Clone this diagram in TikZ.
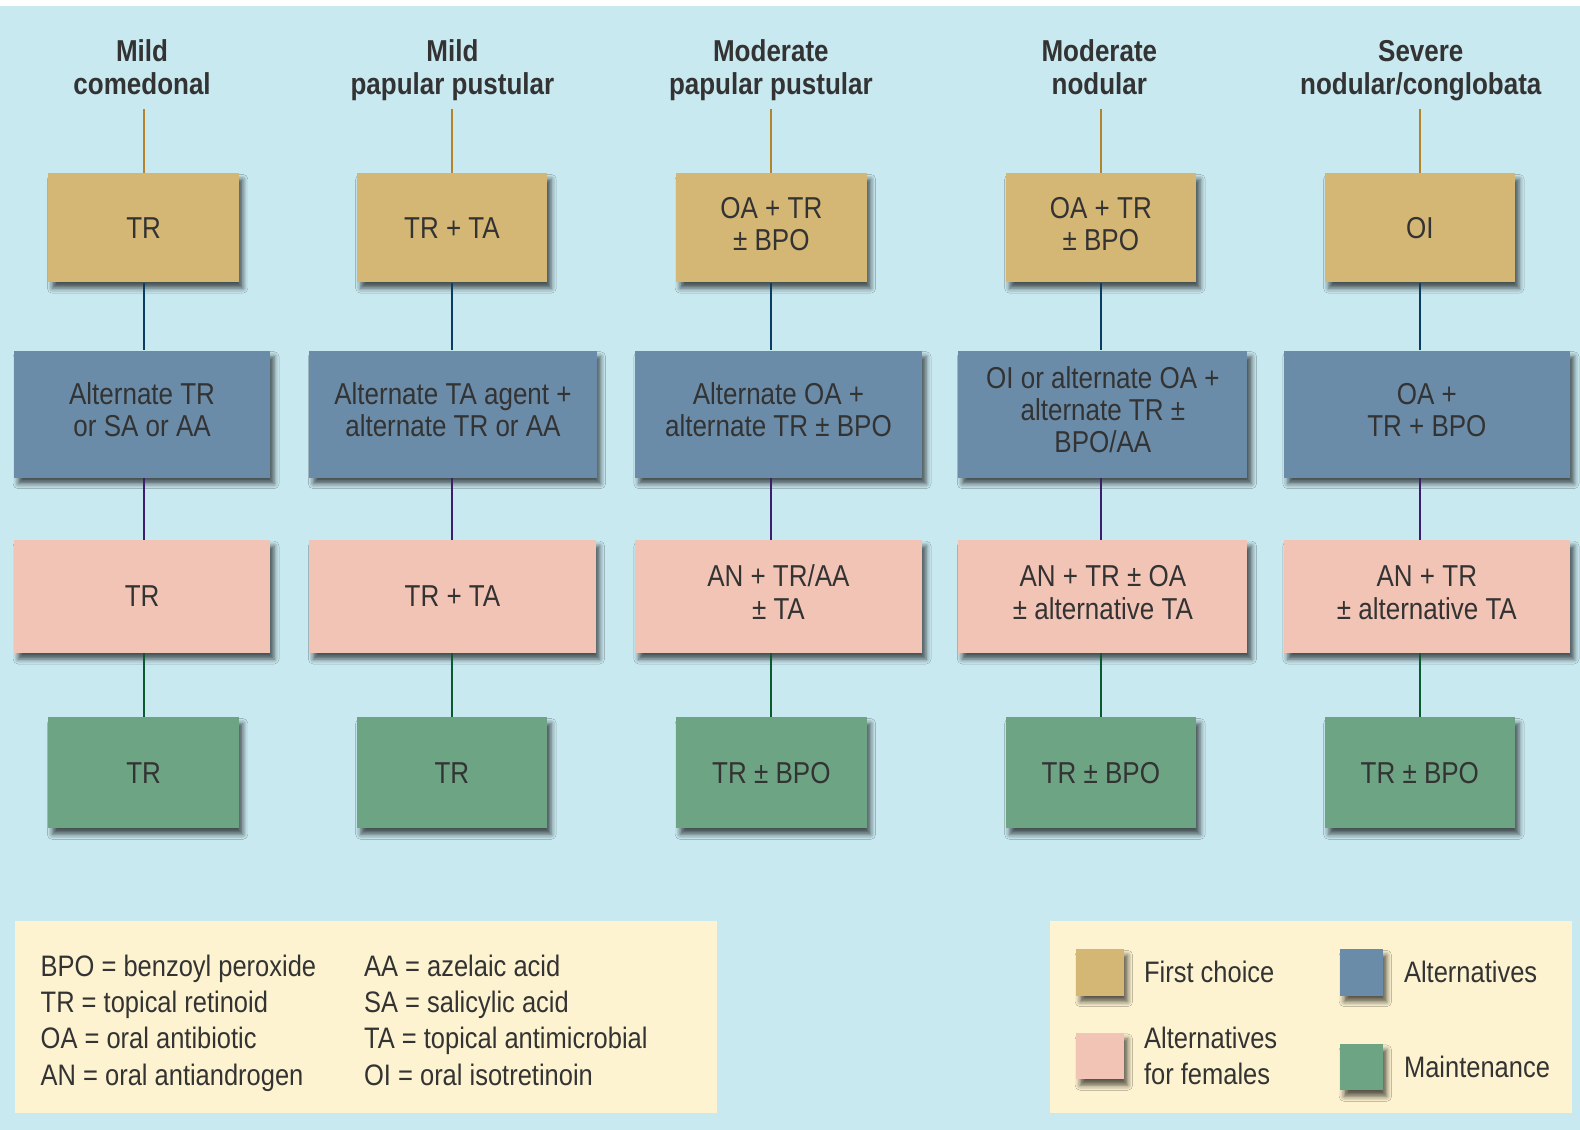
\documentclass[tikz,border=0pt]{standalone}
\usepackage{fontspec}
\setmainfont{Liberation Sans}[FakeStretch=0.86]
\usetikzlibrary{shadows.blur}
\definecolor{bg}{HTML}{C9E9F1}
\definecolor{tanc}{HTML}{D4B675}
\definecolor{bluec}{HTML}{6B8CA8}
\definecolor{pinkc}{HTML}{F2C4B5}
\definecolor{greenc}{HTML}{6DA584}
\definecolor{legc}{HTML}{FDF3D0}
\definecolor{txt}{HTML}{333333}
\definecolor{lnA}{HTML}{B5832A}
\definecolor{lnB}{HTML}{0A3D62}
\definecolor{lnC}{HTML}{3D1E6E}
\definecolor{lnD}{HTML}{0A5A30}
\newcommand{\mystr}{\strut}
\tikzset{
  sh/.style={blur shadow={shadow xshift=2pt, shadow yshift=-3pt, shadow blur radius=2.5pt, shadow opacity=65}},
  box/.style={sh, inner sep=0pt, align=center, text=txt, font=\fontsize{15}{16}\selectfont},
  tanbox/.style={box, fill=tanc, minimum width=94.5pt, minimum height=54pt},
  bluebox/.style={box, fill=bluec, minimum height=63pt},
  pinkbox/.style={box, fill=pinkc, minimum height=56pt},
  greenbox/.style={box, fill=greenc, minimum width=94.5pt, minimum height=55pt},
  head/.style={anchor=north, align=center, text=txt, font=\bfseries\fontsize{15}{16.5}\selectfont, inner sep=0pt},
  leg/.style={anchor=west, text=txt, font=\fontsize{14.7}{18}\selectfont, inner sep=0pt},
  legbox/.style={align=left, anchor=west, text=txt, font=\fontsize{14.7}{18}\selectfont, inner sep=0pt},
  legcol/.style={align=left, anchor=north west, text=txt, font=\fontsize{14.7}{18}\selectfont, inner sep=0pt},
  swatch/.style={sh, minimum width=23.5pt, minimum height=23pt, inner sep=0pt},
  conn/.style={line width=1pt}
}
\begin{document}
\begin{tikzpicture}[x=0.5pt,y=-0.5pt]
\useasboundingbox (0,0) rectangle (1568,1121);
\fill[white] (0,0) rectangle (1568,1121);
\fill[bg] (0,6) rectangle (1568,1121);

% headers
\node[head] (h1) at (141,37.6) {\mystr Mild\\\mystr comedonal};
\node[head] (h2) at (449,37.6) {\mystr Mild\\\mystr papular pustular};
\node[head] (h3) at (765,37.6) {\mystr Moderate\\\mystr papular pustular};
\node[head] (h4) at (1091,37.6) {\mystr Moderate\\\mystr nodular};
\node[head] (h5) at (1410,37.6) {\mystr Severe\\\mystr nodular/conglobata};

% first choice
\node[tanbox] (t1) at (142.5,226) {TR};
\node[tanbox] (t2) at (448.5,226) {TR + TA};
\node[tanbox] (t3) at (765.5,226) {\mystr OA + TR\\\mystr ± BPO};
\node[tanbox] (t4) at (1092.5,226) {\mystr OA + TR\\\mystr ± BPO};
\node[tanbox] (t5) at (1409,226) {OI};

% alternatives
\node[bluebox, minimum width=127pt] (b1) at (141,411) {\mystr Alternate TR\\\mystr or SA or AA};
\node[bluebox, minimum width=142.5pt] (b2) at (449.5,411) {\mystr Alternate TA agent +\\\mystr alternate TR or AA};
\node[bluebox, minimum width=142.5pt] (b3) at (772.5,411) {\mystr Alternate OA +\\\mystr alternate TR ± BPO};
\node[bluebox, minimum width=143.5pt] (b4) at (1094.5,411) {\mystr OI or alternate OA +\\\mystr alternate TR ±\\\mystr BPO/AA};
\node[bluebox, minimum width=142pt] (b5) at (1416,411) {\mystr OA +\\\mystr TR + BPO};

% alternatives for females
\node[pinkbox, minimum width=127pt] (p1) at (141,592) {TR};
\node[pinkbox, minimum width=142pt] (p2) at (449,592) {TR + TA};
\node[pinkbox, minimum width=142.5pt] (p3) at (772.5,592) {\mystr AN + TR/AA\\\mystr ± TA};
\node[pinkbox, minimum width=143.5pt] (p4) at (1094.5,592) {\mystr AN + TR ± OA\\\mystr ± alternative TA};
\node[pinkbox, minimum width=142pt] (p5) at (1416,592) {\mystr AN + TR\\\mystr ± alternative TA};

% maintenance
\node[greenbox] (g1) at (142.5,767) {TR};
\node[greenbox] (g2) at (448.5,767) {TR};
\node[greenbox] (g3) at (765.5,767) {TR ± BPO};
\node[greenbox] (g4) at (1092.5,767) {TR ± BPO};
\node[greenbox] (g5) at (1409,767) {TR ± BPO};

% connectors
\foreach \i in {1,...,5}{
  \draw[conn, lnA] (t\i.north |- 0,108) -- (t\i.north);
  \draw[conn, lnB] (t\i.south) -- (t\i.south |- b\i.north);
  \draw[conn, lnC] (t\i.south |- b\i.south) -- (t\i.south |- p\i.north);
  \draw[conn, lnD] (t\i.south |- p\i.south) -- (g\i.north);
}

% legend left
\node[fill=legc, minimum width=348.5pt, minimum height=95pt, inner sep=0pt, anchor=north west] (legA) at (14,914) {};
\node[legcol] (la) at (40,943.3) {\mystr BPO = benzoyl peroxide\\\mystr TR = topical retinoid\\\mystr OA = oral antibiotic\\\mystr AN = oral antiandrogen};
\node[legcol] (lb) at (361,943.3) {\mystr AA = azelaic acid\\\mystr SA = salicylic acid\\\mystr TA = topical antimicrobial\\\mystr OI = oral isotretinoin};

% legend right
\node[fill=legc, minimum width=259pt, minimum height=95pt, inner sep=0pt, anchor=north west] (legB) at (1042,914) {};
\node[swatch, fill=tanc] (s1) at (1091.5,965) {};
\node[swatch, fill=pinkc] (s2) at (1091.5,1048) {};
\node[swatch, fill=bluec, minimum width=21pt] (s3) at (1351,965) {};
\node[swatch, fill=greenc, minimum width=21pt] (s4) at (1351,1059) {};
\node[leg] (l1) at (1135,965) {First choice};
\node[legbox] (l2) at (1135,1048) {Alternatives\\for females};
\node[leg] (l3) at (1393,965) {Alternatives};
\node[leg] (l4) at (1393,1059) {Maintenance};
\end{tikzpicture}
\end{document}
